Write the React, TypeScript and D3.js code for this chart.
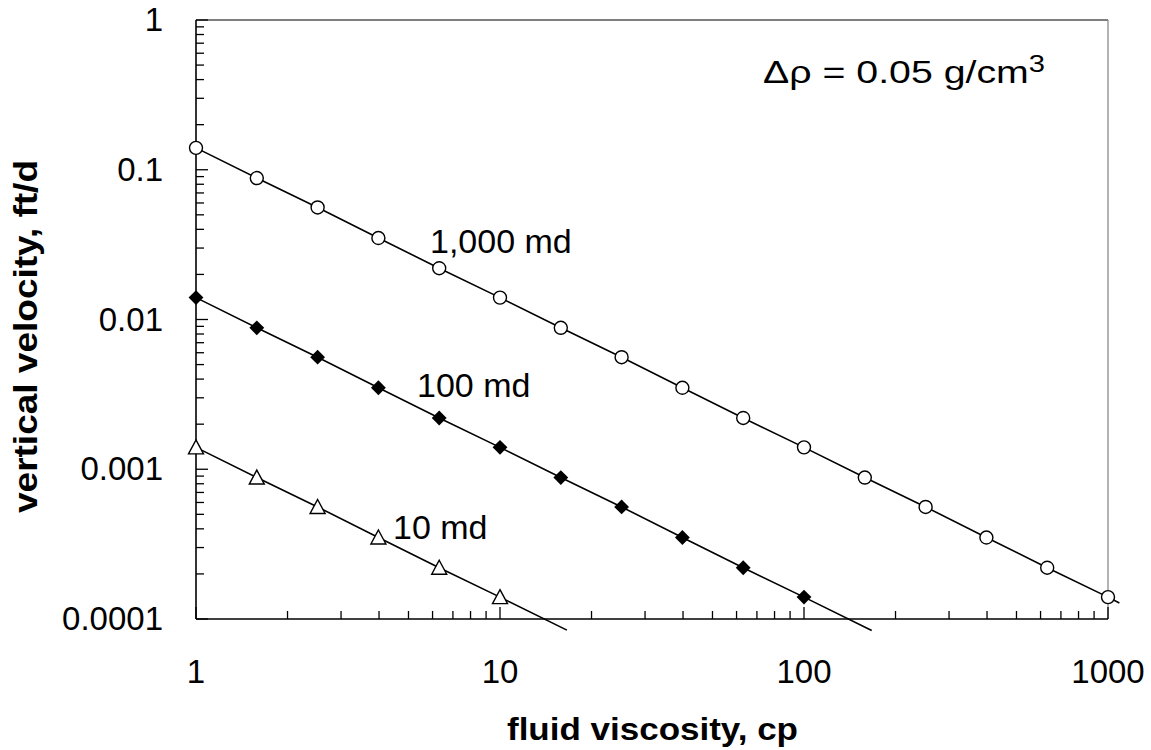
import * as d3 from 'd3';
import { useEffect, useRef } from 'react';

// viscosity values (cp) where markers are drawn
const viscosity = [1, 1.585, 2.512, 3.981, 6.31, 10, 15.85, 25.12, 39.81, 63.1, 100, 158.5, 251.2, 398.1, 631, 1000];
// vertical velocity (ft/d) for each permeability
const velocity1000md = [0.14, 0.088, 0.056, 0.035, 0.022, 0.014, 0.0088, 0.0056, 0.0035, 0.0022, 0.0014, 0.00088, 0.00056, 0.00035, 0.00022, 0.00014];
const velocity100md = [0.014, 0.0088, 0.0056, 0.0035, 0.0022, 0.0014, 0.00088, 0.00056, 0.00035, 0.00022, 0.00014];
const velocity10md = [0.0014, 0.00088, 0.00056, 0.00035, 0.00022, 0.00014];
const seriesNames = ['1,000 md', '100 md', '10 md'];
// where each fitted line runs out
const lineEndViscosity = [1090, 167, 16.6];
const lineEndVelocity = [0.000128, 0.0000838, 0.0000843];
const xTickLabels = ['1', '10', '100', '1000'];
const yTickLabels = ['0.0001', '0.001', '0.01', '0.1', '1'];

const FONT = '"Liberation Sans", Arial, Helvetica, sans-serif';

const App = () => {
    const ref = useRef<SVGSVGElement | null>(null);

    useEffect(() => {
        const margin = { top: 20, right: 43, bottom: 131, left: 196 };
        const W = 1151;
        const H = 750;
        const width = W - margin.left - margin.right;
        const height = H - margin.top - margin.bottom;

        const root = d3.select(ref.current);
        root.selectAll('*').remove();
        const svg = root.append('g').attr('transform', `translate(${margin.left},${margin.top})`);

        const x = d3.scaleLog().domain([1, 1000]).range([0, width]);
        const y = d3.scaleLog().domain([0.0001, 1]).range([height, 0]);

        const isMajor = (v: number) => Math.abs(Math.log10(v) - Math.round(Math.log10(v))) < 1e-6;

        // frame: top black, right grey
        svg.append('line').attr('x1', 0).attr('x2', width).attr('y1', 0).attr('y2', 0)
            .attr('stroke', '#000').attr('stroke-width', 1.2);
        svg.append('line').attr('x1', width).attr('x2', width).attr('y1', 0).attr('y2', height)
            .attr('stroke', '#808080').attr('stroke-width', 1.2);

        // left axis, ticks point inward
        svg.append('line').attr('x1', 0).attr('x2', 0).attr('y1', 0).attr('y2', height)
            .attr('stroke', '#000').attr('stroke-width', 1.6);
        svg.selectAll('.ytick')
            .data(y.ticks())
            .enter()
            .append('line')
            .attr('x1', 0)
            .attr('x2', (d) => (isMajor(d) ? 12 : 8))
            .attr('y1', (d) => y(d))
            .attr('y2', (d) => y(d))
            .attr('stroke', '#000')
            .attr('stroke-width', 1.3);

        // bottom axis
        svg.append('line').attr('x1', 0).attr('x2', width).attr('y1', height).attr('y2', height)
            .attr('stroke', '#000').attr('stroke-width', 1.6);
        svg.selectAll('.xtick')
            .data(x.ticks())
            .enter()
            .append('line')
            .attr('x1', (d) => x(d))
            .attr('x2', (d) => x(d))
            .attr('y1', height)
            .attr('y2', (d) => height - (isMajor(d) ? 12 : 8))
            .attr('stroke', '#000')
            .attr('stroke-width', 1.3);

        // tick labels
        svg.selectAll('.ylabel')
            .data(yTickLabels)
            .enter()
            .append('text')
            .attr('x', -33)
            .attr('y', (d) => y(+d) + 11)
            .attr('text-anchor', 'end')
            .style('font-family', FONT)
            .style('font-size', '33px')
            .text((d) => d);

        svg.selectAll('.xlabel')
            .data(xTickLabels)
            .enter()
            .append('text')
            .attr('x', (d) => x(+d))
            .attr('y', height + 64)
            .attr('text-anchor', 'middle')
            .style('font-family', FONT)
            .style('font-size', '33px')
            .text((d) => d);

        // axis titles (original lettering is a little wide, so stretch to its length)
        svg.append('text')
            .attr('x', 507 - margin.left)
            .attr('y', height + 121)
            .attr('textLength', 291)
            .attr('lengthAdjust', 'spacingAndGlyphs')
            .style('font-family', FONT)
            .style('font-size', '31px')
            .style('font-weight', 'bold')
            .text('fluid viscosity, cp');

        svg.append('text')
            .attr('transform', `translate(${37 - margin.left},${513 - margin.top}) rotate(-90)`)
            .attr('textLength', 353)
            .attr('lengthAdjust', 'spacingAndGlyphs')
            .style('font-family', FONT)
            .style('font-size', '33px')
            .style('font-weight', 'bold')
            .text('vertical velocity, ft/d');

        // lines and markers
        const series = [velocity1000md, velocity100md, velocity10md];
        const line = d3.line<[number, number]>()
            .x((d) => x(d[0]))
            .y((d) => y(d[1]));

        series.forEach((vals, i) => {
            const pts: [number, number][] = vals.map((v, j) => [viscosity[j], v]);
            pts.push([lineEndViscosity[i], lineEndVelocity[i]]);
            svg.append('path')
                .attr('d', line(pts))
                .attr('fill', 'none')
                .attr('stroke', '#000')
                .attr('stroke-width', 1.6);
        });

        // 1,000 md: open circles
        svg.selectAll('.m1000')
            .data(velocity1000md)
            .enter()
            .append('circle')
            .attr('cx', (d, j) => x(viscosity[j]))
            .attr('cy', (d) => y(d))
            .attr('r', 6.5)
            .attr('fill', '#fff')
            .attr('stroke', '#000')
            .attr('stroke-width', 1.4);

        // 100 md: filled diamonds
        const diamond = d3.symbol().type(d3.symbolSquare).size(110);
        svg.selectAll('.m100')
            .data(velocity100md)
            .enter()
            .append('path')
            .attr('d', diamond() as string)
            .attr('transform', (d, j) => `translate(${x(viscosity[j])},${y(d)}) rotate(45)`)
            .attr('fill', '#000');

        // 10 md: open triangles
        svg.selectAll('.m10')
            .data(velocity10md)
            .enter()
            .append('path')
            .attr('d', 'M0,-7.5L7.5,6.5L-7.5,6.5Z')
            .attr('transform', (d, j) => `translate(${x(viscosity[j])},${y(d)})`)
            .attr('fill', '#fff')
            .attr('stroke', '#000')
            .attr('stroke-width', 1.4);

        // series labels
        const labelPos = [
            { x: 430, y: 253 },
            { x: 417, y: 397 },
            { x: 393, y: 539 },
        ];
        svg.selectAll('.slabel')
            .data(seriesNames)
            .enter()
            .append('text')
            .attr('x', (d, i) => labelPos[i].x - margin.left)
            .attr('y', (d, i) => labelPos[i].y - margin.top)
            .style('font-family', FONT)
            .style('font-size', '34px')
            .text((d) => d);

        // density difference annotation
        const note = svg.append('text')
            .attr('x', 763 - margin.left)
            .attr('y', 83 - margin.top)
            .attr('textLength', 282)
            .attr('lengthAdjust', 'spacingAndGlyphs')
            .style('font-family', FONT)
            .style('font-size', '31px');
        note.append('tspan').text('\u0394\u03c1 = 0.05 g/cm');
        note.append('tspan').attr('dy', -11).style('font-size', '23px').text('3');
    }, []);

    return (
        <svg
            ref={ref}
            width={1151}
            height={750}
            style={{ position: 'absolute', left: 0, top: 0, background: '#fff' }}
        />
    );
};

export default App;
